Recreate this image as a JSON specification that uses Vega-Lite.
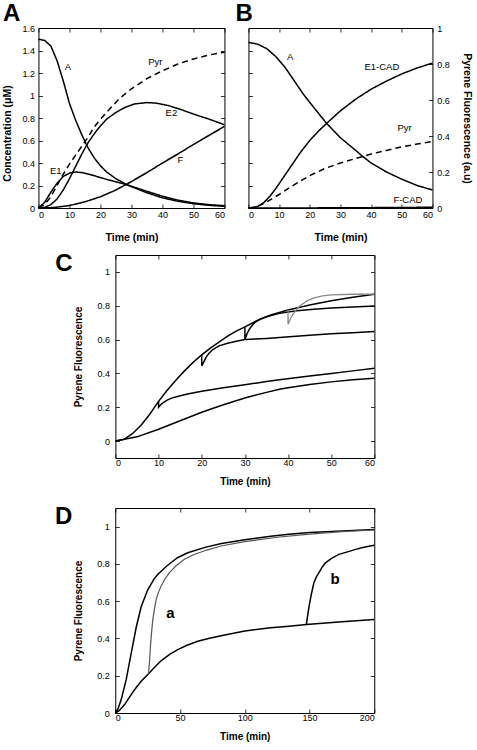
{
"$schema": "https://vega.github.io/schema/vega-lite/v6.json",
"padding": {"left": 2, "top": 1, "right": 3, "bottom": 2},
"config": {
  "font": "Liberation Sans",
  "view": {"stroke": "black", "strokeWidth": 1},
  "axis": {"grid": false, "domain": false, "tickColor": "black", "tickSize": -4, "tickWidth": 0.8, "labelFontSize": 9, "labelColor": "black", "labelPadding": 8, "titleFontSize": 10.5, "titleFontWeight": "bold", "titleColor": "black"},
  "title": {"fontSize": 24, "fontWeight": "bold", "anchor": "start", "color": "black"},
  "text": {"font": "Liberation Sans"}
},
"datasets": {
  "panelA": [
    {"s":"A","t":0,"v":1.5},{"s":"A","t":2,"v":1.49},{"s":"A","t":4,"v":1.44},{"s":"A","t":6,"v":1.31},{"s":"A","t":8,"v":1.13},{"s":"A","t":10,"v":0.93},{"s":"A","t":12,"v":0.78},{"s":"A","t":14,"v":0.65},{"s":"A","t":16,"v":0.535},{"s":"A","t":18,"v":0.445},{"s":"A","t":20,"v":0.375},{"s":"A","t":22,"v":0.32},{"s":"A","t":25,"v":0.26},{"s":"A","t":28,"v":0.215},{"s":"A","t":30,"v":0.19},{"s":"A","t":35,"v":0.135},{"s":"A","t":40,"v":0.09},{"s":"A","t":45,"v":0.06},{"s":"A","t":50,"v":0.038},{"s":"A","t":55,"v":0.024},{"s":"A","t":60,"v":0.015},
    {"s":"E1","t":0,"v":0},{"s":"E1","t":2,"v":0.05},{"s":"E1","t":4,"v":0.14},{"s":"E1","t":6,"v":0.22},{"s":"E1","t":8,"v":0.28},{"s":"E1","t":10,"v":0.31},{"s":"E1","t":12,"v":0.32},{"s":"E1","t":14,"v":0.315},{"s":"E1","t":16,"v":0.302},{"s":"E1","t":18,"v":0.287},{"s":"E1","t":20,"v":0.27},{"s":"E1","t":22,"v":0.255},{"s":"E1","t":25,"v":0.233},{"s":"E1","t":28,"v":0.21},{"s":"E1","t":30,"v":0.193},{"s":"E1","t":35,"v":0.148},{"s":"E1","t":40,"v":0.105},{"s":"E1","t":45,"v":0.07},{"s":"E1","t":50,"v":0.045},{"s":"E1","t":55,"v":0.03},{"s":"E1","t":60,"v":0.02},
    {"s":"E2","t":0,"v":0},{"s":"E2","t":2,"v":0.005},{"s":"E2","t":4,"v":0.03},{"s":"E2","t":6,"v":0.08},{"s":"E2","t":8,"v":0.16},{"s":"E2","t":10,"v":0.26},{"s":"E2","t":12,"v":0.37},{"s":"E2","t":14,"v":0.48},{"s":"E2","t":16,"v":0.58},{"s":"E2","t":18,"v":0.66},{"s":"E2","t":20,"v":0.73},{"s":"E2","t":22,"v":0.79},{"s":"E2","t":25,"v":0.85},{"s":"E2","t":28,"v":0.895},{"s":"E2","t":31,"v":0.925},{"s":"E2","t":35,"v":0.937},{"s":"E2","t":38,"v":0.932},{"s":"E2","t":42,"v":0.91},{"s":"E2","t":46,"v":0.875},{"s":"E2","t":50,"v":0.835},{"s":"E2","t":55,"v":0.79},{"s":"E2","t":60,"v":0.74},
    {"s":"F","t":0,"v":0},{"s":"F","t":5,"v":0.004},{"s":"F","t":10,"v":0.022},{"s":"F","t":15,"v":0.055},{"s":"F","t":20,"v":0.1},{"s":"F","t":25,"v":0.16},{"s":"F","t":30,"v":0.235},{"s":"F","t":35,"v":0.315},{"s":"F","t":40,"v":0.4},{"s":"F","t":45,"v":0.48},{"s":"F","t":50,"v":0.565},{"s":"F","t":55,"v":0.645},{"s":"F","t":60,"v":0.725},
    {"s":"Pyr","t":0,"v":0},{"s":"Pyr","t":2,"v":0.03},{"s":"Pyr","t":4,"v":0.1},{"s":"Pyr","t":6,"v":0.2},{"s":"Pyr","t":8,"v":0.3},{"s":"Pyr","t":10,"v":0.39},{"s":"Pyr","t":12,"v":0.47},{"s":"Pyr","t":14,"v":0.55},{"s":"Pyr","t":16,"v":0.63},{"s":"Pyr","t":18,"v":0.72},{"s":"Pyr","t":20,"v":0.79},{"s":"Pyr","t":23,"v":0.88},{"s":"Pyr","t":26,"v":0.97},{"s":"Pyr","t":30,"v":1.06},{"s":"Pyr","t":35,"v":1.15},{"s":"Pyr","t":40,"v":1.22},{"s":"Pyr","t":45,"v":1.28},{"s":"Pyr","t":50,"v":1.325},{"s":"Pyr","t":55,"v":1.36},{"s":"Pyr","t":60,"v":1.385}
  ],
  "labelsA": [
    {"label":"A","t":9.5,"v":1.25},{"label":"Pyr","t":37.7,"v":1.295},{"label":"E2","t":42.9,"v":0.848},{"label":"F","t":45.8,"v":0.43},{"label":"E1","t":5.6,"v":0.333}
  ],
  "panelB": [
    {"s":"A","t":0,"v":0.92},{"s":"A","t":3,"v":0.91},{"s":"A","t":6,"v":0.885},{"s":"A","t":9,"v":0.84},{"s":"A","t":12,"v":0.78},{"s":"A","t":15,"v":0.705},{"s":"A","t":18,"v":0.63},{"s":"A","t":21,"v":0.565},{"s":"A","t":25.5,"v":0.47},{"s":"A","t":30,"v":0.39},{"s":"A","t":35,"v":0.32},{"s":"A","t":37,"v":0.29},{"s":"A","t":40,"v":0.25},{"s":"A","t":45,"v":0.2},{"s":"A","t":50,"v":0.16},{"s":"A","t":55,"v":0.125},{"s":"A","t":60,"v":0.1},
    {"s":"E1-CAD","t":0,"v":0},{"s":"E1-CAD","t":3,"v":0.008},{"s":"E1-CAD","t":5,"v":0.03},{"s":"E1-CAD","t":7,"v":0.065},{"s":"E1-CAD","t":9,"v":0.11},{"s":"E1-CAD","t":11,"v":0.16},{"s":"E1-CAD","t":13,"v":0.21},{"s":"E1-CAD","t":15,"v":0.26},{"s":"E1-CAD","t":17,"v":0.31},{"s":"E1-CAD","t":20,"v":0.375},{"s":"E1-CAD","t":23,"v":0.43},{"s":"E1-CAD","t":25.5,"v":0.47},{"s":"E1-CAD","t":30,"v":0.54},{"s":"E1-CAD","t":35,"v":0.605},{"s":"E1-CAD","t":40,"v":0.66},{"s":"E1-CAD","t":45,"v":0.705},{"s":"E1-CAD","t":50,"v":0.745},{"s":"E1-CAD","t":55,"v":0.778},{"s":"E1-CAD","t":60,"v":0.805},
    {"s":"Pyr","t":0,"v":0},{"s":"Pyr","t":2,"v":0.003},{"s":"Pyr","t":5,"v":0.025},{"s":"Pyr","t":10,"v":0.075},{"s":"Pyr","t":15,"v":0.13},{"s":"Pyr","t":20,"v":0.18},{"s":"Pyr","t":25,"v":0.22},{"s":"Pyr","t":30,"v":0.25},{"s":"Pyr","t":37,"v":0.285},{"s":"Pyr","t":40,"v":0.3},{"s":"Pyr","t":45,"v":0.32},{"s":"Pyr","t":50,"v":0.34},{"s":"Pyr","t":55,"v":0.355},{"s":"Pyr","t":60,"v":0.37},
    {"s":"F-CAD","t":0,"v":0},{"s":"F-CAD","t":20,"v":0.0005},{"s":"F-CAD","t":40,"v":0.002},{"s":"F-CAD","t":60,"v":0.004}
  ],
  "labelsB": [
    {"label":"A","t":13.6,"v":0.84},{"label":"E1-CAD","t":43.5,"v":0.784},{"label":"Pyr","t":50.9,"v":0.443},{"label":"F-CAD","t":52,"v":0.042}
  ],
  "panelC": [
    {"s":"main","t":0,"v":0},{"s":"main","t":2,"v":0.01},{"s":"main","t":4,"v":0.045},{"s":"main","t":6,"v":0.095},{"s":"main","t":8,"v":0.16},{"s":"main","t":10,"v":0.235},{"s":"main","t":12,"v":0.3},{"s":"main","t":14,"v":0.36},{"s":"main","t":16,"v":0.415},{"s":"main","t":18,"v":0.465},{"s":"main","t":20,"v":0.51},{"s":"main","t":22,"v":0.55},{"s":"main","t":24,"v":0.585},{"s":"main","t":26,"v":0.62},{"s":"main","t":28,"v":0.65},{"s":"main","t":30,"v":0.675},{"s":"main","t":33,"v":0.715},{"s":"main","t":36,"v":0.745},{"s":"main","t":40,"v":0.775},{"s":"main","t":45,"v":0.805},{"s":"main","t":50,"v":0.83},{"s":"main","t":55,"v":0.85},{"s":"main","t":60,"v":0.868},
    {"s":"lower","t":0,"v":0},{"s":"lower","t":5,"v":0.025},{"s":"lower","t":10,"v":0.07},{"s":"lower","t":15,"v":0.12},{"s":"lower","t":20,"v":0.17},{"s":"lower","t":25,"v":0.215},{"s":"lower","t":30,"v":0.255},{"s":"lower","t":35,"v":0.288},{"s":"lower","t":38,"v":0.307},{"s":"lower","t":40,"v":0.315},{"s":"lower","t":45,"v":0.335},{"s":"lower","t":50,"v":0.35},{"s":"lower","t":55,"v":0.362},{"s":"lower","t":60,"v":0.372},
    {"s":"b10","t":10,"v":0.235},{"s":"b10","t":10,"v":0.2},{"s":"b10","t":10.5,"v":0.215},{"s":"b10","t":11,"v":0.226},{"s":"b10","t":12,"v":0.242},{"s":"b10","t":13,"v":0.254},{"s":"b10","t":15,"v":0.268},{"s":"b10","t":17,"v":0.28},{"s":"b10","t":20,"v":0.295},{"s":"b10","t":25,"v":0.315},{"s":"b10","t":30,"v":0.333},{"s":"b10","t":35,"v":0.352},{"s":"b10","t":38,"v":0.362},{"s":"b10","t":45,"v":0.385},{"s":"b10","t":50,"v":0.4},{"s":"b10","t":55,"v":0.415},{"s":"b10","t":60,"v":0.43},
    {"s":"b20","t":20,"v":0.51},{"s":"b20","t":20,"v":0.445},{"s":"b20","t":20.5,"v":0.47},{"s":"b20","t":21,"v":0.495},{"s":"b20","t":21.7,"v":0.52},{"s":"b20","t":22.5,"v":0.54},{"s":"b20","t":24,"v":0.563},{"s":"b20","t":26,"v":0.578},{"s":"b20","t":28,"v":0.59},{"s":"b20","t":30,"v":0.6},{"s":"b20","t":35,"v":0.607},{"s":"b20","t":38,"v":0.612},{"s":"b20","t":45,"v":0.625},{"s":"b20","t":50,"v":0.634},{"s":"b20","t":55,"v":0.641},{"s":"b20","t":60,"v":0.648},
    {"s":"b30","t":30,"v":0.675},{"s":"b30","t":30,"v":0.6},{"s":"b30","t":30.5,"v":0.635},{"s":"b30","t":31,"v":0.66},{"s":"b30","t":31.7,"v":0.685},{"s":"b30","t":32.5,"v":0.705},{"s":"b30","t":33.5,"v":0.72},{"s":"b30","t":35,"v":0.735},{"s":"b30","t":38,"v":0.755},{"s":"b30","t":42,"v":0.77},{"s":"b30","t":46,"v":0.78},{"s":"b30","t":50,"v":0.787},{"s":"b30","t":55,"v":0.793},{"s":"b30","t":60,"v":0.798}
  ],
  "panelCgray": [
    {"s":"b40","t":40,"v":0.775},{"s":"b40","t":40,"v":0.69},{"s":"b40","t":40.5,"v":0.72},{"s":"b40","t":41,"v":0.745},{"s":"b40","t":42,"v":0.78},{"s":"b40","t":43,"v":0.805},{"s":"b40","t":44.5,"v":0.83},{"s":"b40","t":46,"v":0.847},{"s":"b40","t":48,"v":0.858},{"s":"b40","t":50,"v":0.864},{"s":"b40","t":55,"v":0.868},{"s":"b40","t":60,"v":0.869}
  ],
  "panelD": [
    {"s":"top","t":0,"v":0},{"s":"top","t":2,"v":0.02},{"s":"top","t":4.6,"v":0.072},{"s":"top","t":8.5,"v":0.18},{"s":"top","t":12.3,"v":0.32},{"s":"top","t":16.2,"v":0.46},{"s":"top","t":20,"v":0.57},{"s":"top","t":25,"v":0.66},{"s":"top","t":30,"v":0.72},{"s":"top","t":33,"v":0.745},{"s":"top","t":40,"v":0.79},{"s":"top","t":48,"v":0.833},{"s":"top","t":56,"v":0.86},{"s":"top","t":70,"v":0.89},{"s":"top","t":82,"v":0.91},{"s":"top","t":100,"v":0.93},{"s":"top","t":120,"v":0.948},{"s":"top","t":134,"v":0.959},{"s":"top","t":150,"v":0.968},{"s":"top","t":175,"v":0.977},{"s":"top","t":200,"v":0.984},
    {"s":"lower","t":0,"v":0},{"s":"lower","t":3,"v":0.012},{"s":"lower","t":7.2,"v":0.045},{"s":"lower","t":11,"v":0.085},{"s":"lower","t":14.9,"v":0.125},{"s":"lower","t":20,"v":0.17},{"s":"lower","t":25.7,"v":0.211},{"s":"lower","t":30,"v":0.243},{"s":"lower","t":35.4,"v":0.28},{"s":"lower","t":42,"v":0.315},{"s":"lower","t":48.3,"v":0.34},{"s":"lower","t":55,"v":0.362},{"s":"lower","t":63.7,"v":0.385},{"s":"lower","t":72,"v":0.4},{"s":"lower","t":81.7,"v":0.415},{"s":"lower","t":100,"v":0.44},{"s":"lower","t":120,"v":0.458},{"s":"lower","t":134.2,"v":0.466},{"s":"lower","t":147.6,"v":0.475},{"s":"lower","t":175,"v":0.49},{"s":"lower","t":200,"v":0.502},
    {"s":"b","t":147.6,"v":0.475},{"s":"b","t":148.5,"v":0.52},{"s":"b","t":149.6,"v":0.57},{"s":"b","t":151.5,"v":0.64},{"s":"b","t":153.4,"v":0.699},{"s":"b","t":155.3,"v":0.73},{"s":"b","t":157.3,"v":0.753},{"s":"b","t":160,"v":0.785},{"s":"b","t":162.4,"v":0.806},{"s":"b","t":167,"v":0.83},{"s":"b","t":172.7,"v":0.851},{"s":"b","t":180,"v":0.866},{"s":"b","t":185.6,"v":0.878},{"s":"b","t":192,"v":0.889},{"s":"b","t":200,"v":0.9}
  ],
  "panelDgray": [
    {"s":"a","t":25.7,"v":0.211},{"s":"a","t":26.5,"v":0.28},{"s":"a","t":27.2,"v":0.36},{"s":"a","t":28,"v":0.43},{"s":"a","t":29,"v":0.5},{"s":"a","t":30.3,"v":0.56},{"s":"a","t":31.6,"v":0.61},{"s":"a","t":33.5,"v":0.65},{"s":"a","t":35.4,"v":0.68},{"s":"a","t":38,"v":0.715},{"s":"a","t":41.8,"v":0.753},{"s":"a","t":47,"v":0.79},{"s":"a","t":53.4,"v":0.825},{"s":"a","t":60,"v":0.848},{"s":"a","t":70,"v":0.873},{"s":"a","t":81.7,"v":0.896},{"s":"a","t":100,"v":0.92},{"s":"a","t":125,"v":0.943},{"s":"a","t":150,"v":0.96},{"s":"a","t":175,"v":0.973},{"s":"a","t":200,"v":0.982}
  ],
  "labelsD": [
    {"label":"a","t":42.7,"v":0.534},{"label":"b","t":169.7,"v":0.717}
  ]
},
"vconcat": [
  {
    "vconcat": [
      {
        "hconcat": [
          {
            "width": 186, "height": 180,
            "title": {"text": "A", "offset": -2},
            "resolve": {"axis": {"x": "independent", "y": "independent"}},
            "layer": [
              {
                "data": {"name": "panelA"},
                "mark": {"type": "line", "strokeWidth": 1.5, "color": "black"},
                "encoding": {
                  "x": {"field": "t", "type": "quantitative", "scale": {"domain": [0, 60], "nice": false}, "axis": {"orient": "bottom", "values": [0,10,20,30,40,50,60], "title": "Time (min)", "labelPadding": 6.2, "titlePadding": 12.8}},
                  "y": {"field": "v", "type": "quantitative", "scale": {"domain": [0, 1.6], "nice": false}, "axis": {"orient": "left", "values": [0,0.2,0.4,0.6,0.8,1,1.2,1.4,1.6], "format": "~g", "title": "Concentration (μM)", "labelPadding": 8, "titlePadding": 9, "titleY": 105}},
                  "detail": {"field": "s", "type": "nominal"},
                  "strokeDash": {"field": "s", "type": "nominal", "scale": {"domain": ["A","E1","E2","F","Pyr"], "range": [[1,0],[1,0],[1,0],[1,0],[6,4]]}, "legend": null}
                }
              },
              {
                "data": {"name": "labelsA"},
                "mark": {"type": "text", "fontSize": 9.5, "color": "black"},
                "encoding": {
                  "x": {"field": "t", "type": "quantitative", "scale": {"domain": [0, 60], "nice": false}, "axis": {"orient": "top", "values": [0,10,20,30,40,50,60], "labels": false, "title": null}},
                  "y": {"field": "v", "type": "quantitative", "scale": {"domain": [0, 1.6], "nice": false}, "axis": {"orient": "right", "values": [0,0.2,0.4,0.6,0.8,1,1.2,1.4,1.6], "labels": false, "title": null}},
                  "text": {"field": "label", "type": "nominal"}
                }
              }
            ]
          },
          {
            "width": 184, "height": 180,
            "title": {"text": "B", "offset": -2, "dx": -10},
            "resolve": {"axis": {"x": "independent", "y": "independent"}},
            "layer": [
              {
                "data": {"name": "panelB"},
                "mark": {"type": "line", "strokeWidth": 1.5, "color": "black"},
                "encoding": {
                  "x": {"field": "t", "type": "quantitative", "scale": {"domain": [0, 60], "nice": false}, "axis": {"orient": "bottom", "values": [0,10,20,30,40,50,60], "title": "Time (min)", "labelPadding": 6.2, "titlePadding": 12.8}},
                  "y": {"field": "v", "type": "quantitative", "scale": {"domain": [0, 1], "nice": false}, "axis": {"orient": "left", "values": [0.125,0.25,0.375,0.5,0.625,0.75,0.875], "labels": false, "title": null}},
                  "detail": {"field": "s", "type": "nominal"},
                  "strokeDash": {"field": "s", "type": "nominal", "scale": {"domain": ["A","E1-CAD","F-CAD","Pyr"], "range": [[1,0],[1,0],[1,0],[6,4]]}, "legend": null}
                }
              },
              {
                "data": {"name": "labelsB"},
                "mark": {"type": "text", "fontSize": 9.5, "color": "black"},
                "encoding": {
                  "x": {"field": "t", "type": "quantitative", "scale": {"domain": [0, 60], "nice": false}, "axis": {"orient": "top", "values": [0,10,20,30,40,50,60], "labels": false, "title": null}},
                  "y": {"field": "v", "type": "quantitative", "scale": {"domain": [0, 1], "nice": false}, "axis": {"orient": "right", "values": [0,0.2,0.4,0.6,0.8,1], "format": "~g", "title": "Pyrene Fluorescence (a.u)", "labelPadding": 8.4, "titlePadding": 12}},
                  "text": {"field": "label", "type": "nominal"}
                }
              }
            ]
          }
        ],
        "spacing": 6
      },
      {
        "width": 259, "height": 203,
        "title": {"text": "C", "orient": "left", "angle": 0, "anchor": "end", "align": "right", "baseline": "top", "offset": 2, "dx": 18, "dy": -3},
        "resolve": {"axis": {"x": "independent", "y": "independent"}},
        "layer": [
          {
            "data": {"name": "panelC"},
            "mark": {"type": "line", "strokeWidth": 1.5, "color": "black"},
            "encoding": {
              "x": {"field": "t", "type": "quantitative", "scale": {"domain": [0, 60], "nice": false}, "axis": {"orient": "bottom", "values": [0,10,20,30,40,50,60], "title": "Time (min)", "labelPadding": 4, "titlePadding": 9, "titleFontSize": 10}},
              "y": {"field": "v", "type": "quantitative", "scale": {"domain": [-0.1, 1.1], "nice": false, "zero": false}, "axis": {"orient": "left", "values": [0,0.2,0.4,0.6,0.8,1], "format": "~g", "title": "Pyrene Fluorescence", "labelPadding": 10, "titlePadding": 13, "titleFontSize": 10}},
              "detail": {"field": "s", "type": "nominal"},
              "order": {"value": null}
            }
          },
          {
            "data": {"name": "panelCgray"},
            "mark": {"type": "line", "strokeWidth": 1.3, "color": "#888888"},
            "encoding": {
              "x": {"field": "t", "type": "quantitative", "scale": {"domain": [0, 60], "nice": false}, "axis": {"orient": "top", "values": [0,10,20,30,40,50,60], "labels": false, "title": null}},
              "y": {"field": "v", "type": "quantitative", "scale": {"domain": [-0.1, 1.1], "nice": false, "zero": false}, "axis": {"orient": "right", "values": [0,0.2,0.4,0.6,0.8,1], "labels": false, "title": null, "minExtent": 20}},
              "order": {"value": null}
            }
          }
        ]
      }
    ],
    "spacing": 8,
    "center": true
  },
  {
    "width": 259, "height": 205,
    "title": {"text": "D", "orient": "left", "angle": 0, "anchor": "end", "align": "right", "baseline": "top", "offset": 2, "dx": 18, "dy": -3},
    "resolve": {"axis": {"x": "independent", "y": "independent"}},
    "layer": [
      {
        "data": {"name": "panelD"},
        "mark": {"type": "line", "strokeWidth": 1.5, "color": "black"},
        "encoding": {
          "x": {"field": "t", "type": "quantitative", "scale": {"domain": [0, 200], "nice": false}, "axis": {"orient": "bottom", "values": [0,50,100,150,200], "title": "Time (min)", "labelPadding": 4, "titlePadding": 9, "titleFontSize": 10}},
          "y": {"field": "v", "type": "quantitative", "scale": {"domain": [0, 1.1], "nice": false}, "axis": {"orient": "left", "values": [0,0.2,0.4,0.6,0.8,1], "format": "~g", "title": "Pyrene Fluorescence", "labelPadding": 10, "titlePadding": 13, "titleFontSize": 10}},
          "detail": {"field": "s", "type": "nominal"},
          "order": {"value": null}
        }
      },
      {
        "data": {"name": "panelDgray"},
        "mark": {"type": "line", "strokeWidth": 1.2, "color": "#555555"},
        "encoding": {
          "x": {"field": "t", "type": "quantitative", "scale": {"domain": [0, 200], "nice": false}, "axis": {"orient": "top", "values": [0,50,100,150,200], "labels": false, "title": null}},
          "y": {"field": "v", "type": "quantitative", "scale": {"domain": [0, 1.1], "nice": false}, "axis": {"orient": "right", "values": [0,0.2,0.4,0.6,0.8,1], "labels": false, "title": null, "minExtent": 20}},
          "order": {"value": null}
        }
      },
      {
        "data": {"name": "labelsD"},
        "mark": {"type": "text", "fontSize": 15, "fontWeight": "bold", "color": "black"},
        "encoding": {
          "x": {"field": "t", "type": "quantitative", "scale": {"domain": [0, 200], "nice": false}, "axis": null},
          "y": {"field": "v", "type": "quantitative", "scale": {"domain": [0, 1.1], "nice": false}, "axis": null},
          "text": {"field": "label", "type": "nominal"}
        }
      }
    ]
  }
],
"spacing": 17,
"center": true
}
